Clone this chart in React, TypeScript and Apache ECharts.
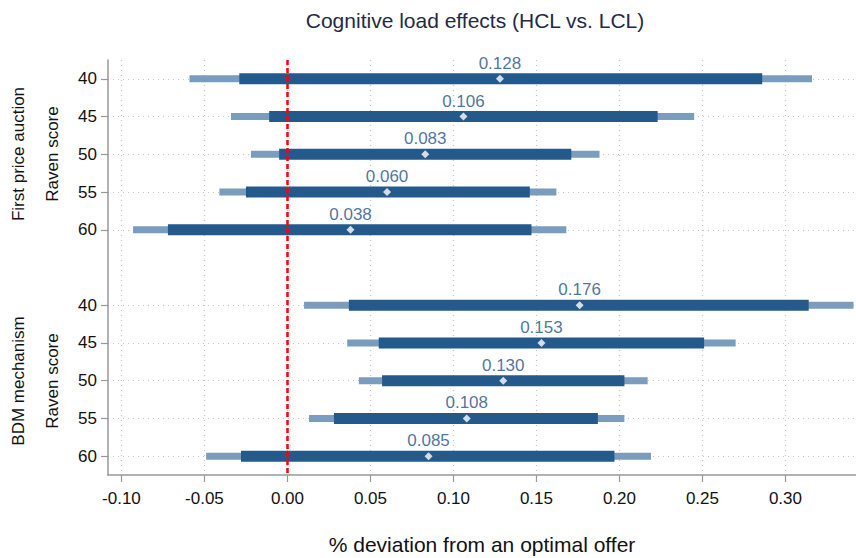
import React, { useEffect, useRef } from "react";
import * as echarts from "echarts";

// Row labels (Raven score) for each panel
const rowLabels = ["40", "45", "50", "55", "60"];

// First price auction
const fpaEst = [0.128, 0.106, 0.083, 0.06, 0.038];
const fpaInnerLo = [-0.029, -0.011, -0.005, -0.025, -0.072];
const fpaInnerHi = [0.286, 0.223, 0.171, 0.146, 0.147];
const fpaOuterLo = [-0.059, -0.034, -0.022, -0.041, -0.093];
const fpaOuterHi = [0.316, 0.245, 0.188, 0.162, 0.168];

// BDM mechanism
const bdmEst = [0.176, 0.153, 0.13, 0.108, 0.085];
const bdmInnerLo = [0.037, 0.055, 0.057, 0.028, -0.028];
const bdmInnerHi = [0.314, 0.251, 0.203, 0.187, 0.197];
const bdmOuterLo = [0.01, 0.036, 0.043, 0.013, -0.049];
const bdmOuterHi = [0.341, 0.27, 0.217, 0.203, 0.219];

// x-axis tick values
const xTicks = [-0.1, -0.05, 0, 0.05, 0.1, 0.15, 0.2, 0.25, 0.3];

// row positions: first panel rows 0..4, gap at 5, second panel rows 6..10
const fpaRows = [0, 1, 2, 3, 4];
const bdmRows = [6, 7, 8, 9, 10];

const FONT = "'Liberation Sans', Arial, sans-serif";

export default function App() {
  const ref = useRef<HTMLDivElement>(null);

  useEffect(() => {
    if (!ref.current) return;
    const chart = echarts.init(ref.current, undefined, { renderer: "svg" });

    const yTickVals = [...fpaRows, ...bdmRows];
    const yTickText: Record<number, string> = {};
    fpaRows.forEach((r, i) => (yTickText[r] = rowLabels[i]));
    bdmRows.forEach((r, i) => (yTickText[r] = rowLabels[i]));

    const outerData = [
      ...fpaRows.map((r, i) => [r, fpaOuterLo[i], fpaOuterHi[i]]),
      ...bdmRows.map((r, i) => [r, bdmOuterLo[i], bdmOuterHi[i]]),
    ];
    const innerData = [
      ...fpaRows.map((r, i) => [r, fpaInnerLo[i], fpaInnerHi[i]]),
      ...bdmRows.map((r, i) => [r, bdmInnerLo[i], bdmInnerHi[i]]),
    ];
    const estData = [
      ...fpaRows.map((r, i) => [fpaEst[i], r]),
      ...bdmRows.map((r, i) => [bdmEst[i], r]),
    ];

    const makeRender = (h: number, color: string) => (params: any, api: any) => {
      const row = api.value(0);
      const p1 = api.coord([api.value(1), row]);
      const p2 = api.coord([api.value(2), row]);
      return {
        type: "rect",
        shape: { x: p1[0], y: p1[1] - h / 2, width: p2[0] - p1[0], height: h },
        style: { fill: color },
      };
    };

    const gridLine = { show: true, lineStyle: { color: "#c4c4c4", type: [1, 4], width: 1.2 } };
    const sideText = (text: string, x: number, y: number) => ({
      type: "text",
      x,
      y,
      rotation: Math.PI / 2,
      style: { text, fontSize: 17, fontFamily: FONT, fill: "#111", textAlign: "center", textVerticalAlign: "middle" },
    });

    chart.setOption({
      animation: false,
      textStyle: { fontFamily: FONT },
      grid: { left: 108, right: 0, top: 60, bottom: 83, containLabel: false, outerBoundsMode: "none" },
      graphic: [
        {
          type: "text",
          x: 475,
          y: 20,
          style: {
            text: "Cognitive load effects (HCL vs. LCL)",
            fontSize: 21,
            fontFamily: FONT,
            fill: "#1f2a48",
            textAlign: "center",
            textVerticalAlign: "middle",
          },
        },
        sideText("First price auction", 18, 154),
        sideText("Raven score", 52, 154),
        sideText("BDM mechanism", 18, 381),
        sideText("Raven score", 52, 381),
      ],
      xAxis: {
        type: "value",
        min: -0.1081,
        max: 0.3425,
        name: "% deviation from an optimal offer",
        nameLocation: "middle",
        nameGap: 59,
        nameTextStyle: { fontSize: 21, color: "#111", fontFamily: FONT },
        axisLine: { show: true, onZero: false, lineStyle: { color: "#999", width: 1.5 } },
        axisTick: { show: true, customValues: xTicks, length: 7, lineStyle: { color: "#999", width: 1.2 } },
        axisLabel: {
          customValues: xTicks,
          formatter: (v: number) => v.toFixed(2),
          fontSize: 17,
          color: "#111",
          margin: 15,
          fontFamily: FONT,
        },
        splitLine: gridLine,
      },
      yAxis: {
        type: "value",
        inverse: true,
        min: -0.5,
        max: 10.5,
        axisLine: { show: true, onZero: false, lineStyle: { color: "#999", width: 1.5 } },
        axisTick: { show: true, customValues: yTickVals, length: 7, lineStyle: { color: "#999", width: 1.2 } },
        axisLabel: {
          customValues: yTickVals,
          formatter: (v: number) => yTickText[Math.round(v)] ?? "",
          fontSize: 17,
          color: "#111",
          margin: 11,
          fontFamily: FONT,
        },
        splitLine: gridLine,
      },
      series: [
        {
          type: "custom",
          renderItem: makeRender(7, "#7b9dbd"),
          data: outerData,
          encode: { x: [1, 2], y: 0 },
          z: 2,
          markLine: {
            silent: true,
            symbol: "none",
            label: { show: false },
            lineStyle: { color: "#ff0000", type: [5, 3], width: 2.5 },
            data: [{ xAxis: 0 }],
          },
        },
        {
          type: "custom",
          renderItem: makeRender(11, "#245a8b"),
          data: innerData,
          encode: { x: [1, 2], y: 0 },
          z: 3,
        },
        {
          type: "scatter",
          data: estData,
          symbol: "diamond",
          symbolSize: [8, 8],
          itemStyle: { color: "#ffffff" },
          z: 5,
          label: {
            show: true,
            position: "top",
            distance: 3,
            formatter: (p: any) => p.value[0].toFixed(3),
            fontSize: 17,
            color: "#1d5088",
            fontFamily: FONT,
          },
        },
      ],
    });

    return () => chart.dispose();
  }, []);

  return (
    <div
      ref={ref}
      style={{ position: "fixed", left: 0, top: 0, width: 856, height: 558, background: "#fff" }}
    />
  );
}
